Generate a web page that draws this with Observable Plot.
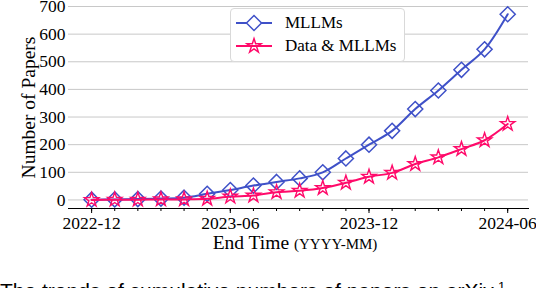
<!DOCTYPE html>
<html><head><meta charset="utf-8">
<script src="https://cdn.jsdelivr.net/npm/d3@7"></script>
<script src="https://cdn.jsdelivr.net/npm/@observablehq/plot@0.6"></script>
<style>
html,body{margin:0;padding:0;background:#fff;}
body{overflow:hidden;width:536px;height:288px;position:relative;}
#chart{position:absolute;left:0;top:0;}
#chart svg text{font-family:"Liberation Serif",serif;}
#legend{position:absolute;left:230px;top:8px;width:173px;height:52px;border:1px solid #d9d9d9;border-radius:4px;background:#fff;font-family:"Liberation Serif",serif;font-size:17px;color:#000;}
#legend .row{position:absolute;left:0;height:20px;display:flex;align-items:center;}
#legend svg{display:block}
#legend span{position:absolute;left:54px;white-space:nowrap;line-height:20px;}
#xlabel{position:absolute;left:0;width:590px;text-align:center;top:232px;font-family:"Liberation Serif",serif;font-size:19.5px;line-height:22px;color:#000;}
#xlabel small{font-size:15px;}
#caption{position:absolute;left:0;top:280px;font-family:"Liberation Sans",sans-serif;font-size:21px;line-height:21px;white-space:nowrap;color:#000;}
#caption sup{font-size:13px;vertical-align:7px;line-height:0;}
</style>
</head><body>
<div id="chart"></div>
<div id="legend"></div>
<div id="xlabel">End Time <small>(YYYY-MM)</small></div>
<div id="caption">The trends of cumulative numbers of papers on arXiv.<sup>1</sup></div>
<script>
const months = ["2022-12","2023-01","2023-02","2023-03","2023-04","2023-05","2023-06","2023-07","2023-08","2023-09","2023-10","2023-11","2023-12","2024-01","2024-02","2024-03","2024-04","2024-05","2024-06"];
const mllms =      [1, 2, 3, 5, 8, 22, 36, 52, 65, 78, 100, 150, 200, 250, 329, 396, 471, 545, 672];
const dataMllms =  [0, 1, 1, 2, 2, 4, 12, 16, 28, 33, 43, 62, 84, 98, 130, 154, 184, 216, 275];
const tickLabels = ["2022-12","2023-06","2023-12","2024-06"];
const seriesNames = ["MLLMs","Data & MLLMs"];
const colors = ["#3f51c8","#ff0a6a"];
const serif = '"Liberation Serif", serif';

const rows = [];
months.forEach((m,i)=>{
  rows.push({i, month:m, series:seriesNames[0], value:mllms[i]});
  rows.push({i, month:m, series:seriesNames[1], value:dataMllms[i]});
});
const s1 = rows.filter(d=>d.series===seriesNames[0]);
const s2 = rows.filter(d=>d.series===seriesNames[1]);
const majorIdx = tickLabels.map(t=>months.indexOf(t));
const allIdx = months.map((m,i)=>i);

const chart = Plot.plot({
  width: 536,
  height: 270,
  marginLeft: 68,
  marginRight: 8,
  marginTop: 6,
  marginBottom: 62,
  style: {fontFamily: serif, fontSize: "17px", color: "#000", background: "transparent", overflow: "visible"},
  x: {type: "linear", domain: [-1, 18.9]},
  y: {domain: [-31, 700]},
  marks: [
    Plot.gridY(d3.range(0, 701, 100), {stroke: "#c8c8c8", strokeOpacity: 1, strokeWidth: 1}),
    Plot.axisY(d3.range(0, 701, 100), {tickSize: 0, tickPadding: 3, label: null, fontSize: 17.5, fontFamily: serif, fill: "#000"}),
    Plot.frame({anchor: "bottom", stroke: "#000", strokeWidth: 1}),
    Plot.axisX(allIdx, {tickSize: 3, tickFormat: () => "", label: null, stroke: "#000"}),
    Plot.axisX(majorIdx, {tickSize: 5, tickPadding: 3, tickFormat: i => months[i], label: null, fontSize: 17.5, fontFamily: serif, fill: "#000", stroke: "#000"}),
    Plot.line(s1, {x: "i", y: "value", stroke: colors[0], strokeWidth: 2, curve: "catmull-rom"}),
    Plot.dot(s1, {x: "i", y: "value", symbol: "diamond2", r: 6.8, stroke: colors[0], fill: "none", strokeWidth: 1.5}),
    Plot.line(s2, {x: "i", y: "value", stroke: colors[1], strokeWidth: 2, curve: "catmull-rom"}),
    Plot.dot(s2, {x: "i", y: "value", symbol: "star", r: 4.5, stroke: colors[1], fill: "none", strokeWidth: 1.4}),
    Plot.text(["Number of Papers"], {frameAnchor: "left", rotate: -90, dx: -40, dy: 0, textAnchor: "middle", fontSize: 19.5, fontFamily: serif, fill: "#000"})
  ]
});
document.getElementById("chart").appendChild(chart);

// legend
const legend = document.getElementById("legend");
const syms = [d3.symbol(d3.symbolDiamond2, 144)(), d3.symbol(d3.symbolStar, 62)()];
seriesNames.forEach((name, k) => {
  const row = document.createElement("div");
  row.className = "row";
  row.style.top = (4 + k*23) + "px";
  row.style.width = "170px";
  row.innerHTML = `<svg width="50" height="20" style="position:absolute;left:5px;top:0">
    <line x1="0" x2="36" y1="10" y2="10" stroke="${colors[k]}" stroke-width="2"/>
    <path d="${syms[k]}" transform="translate(18,10)" fill="${k===0?'#fff':'none'}" stroke="${colors[k]}" stroke-width="1.5"/>
  </svg><span>${name}</span>`;
  legend.appendChild(row);
});
</script>
</body></html>
